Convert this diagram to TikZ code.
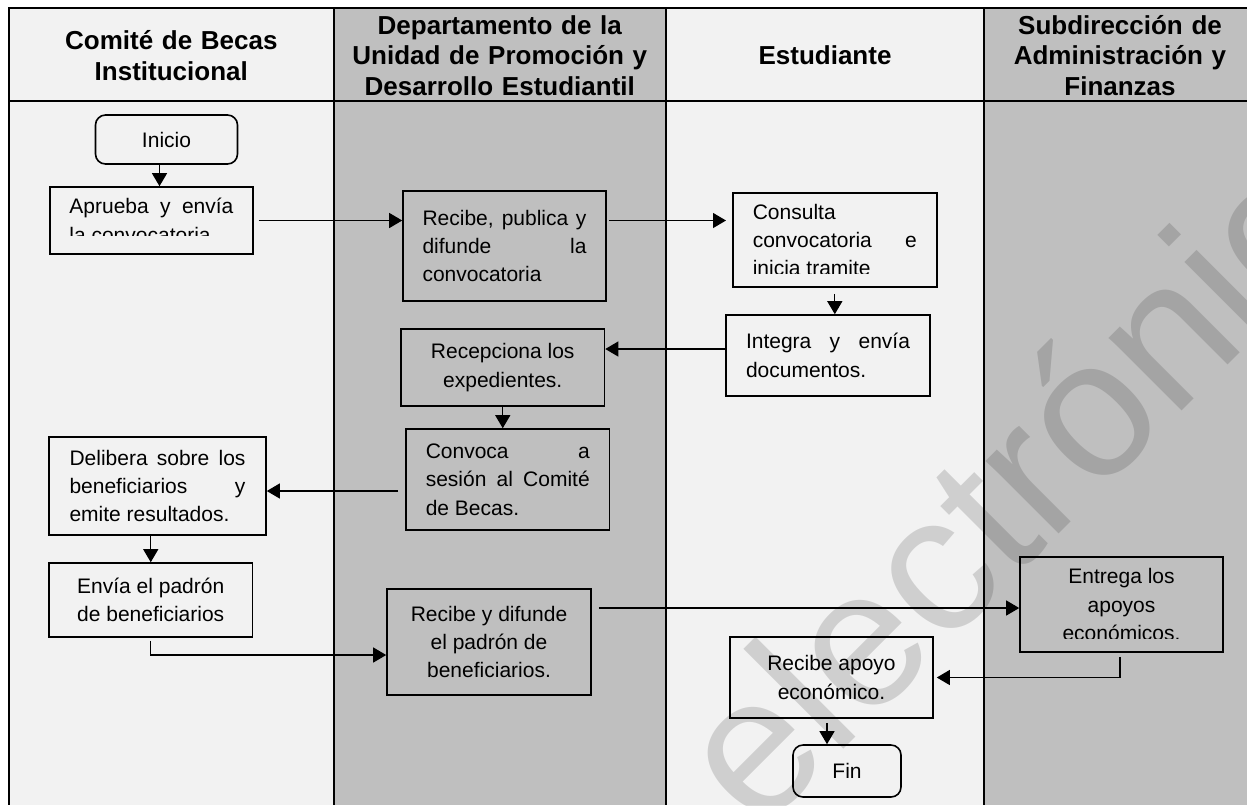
\documentclass[tikz,border=0pt]{standalone}
\usepackage{fontspec}
\setmainfont{Liberation Sans}
\usetikzlibrary{arrows.meta}
\definecolor{claro}{RGB}{242,242,242}
\definecolor{gris}{RGB}{191,191,191}

\tikzset{
	tam/.style 2 args={minimum width=#1*.5pt, minimum height=#2*.5pt},
	paso/.style={draw, line width=.8pt, inner sep=0pt, font=\fontsize{10.5}{14.2}\selectfont},
	just/.style={paso, align=justify, text width=82pt},
	centro/.style={paso, align=center},
	terminal/.style={centro, rounded corners=5pt},
	titulo/.style={align=center, text width=160pt, font=\bfseries\fontsize{13}{15.3}\selectfont},
	flecha/.style={line width=.6pt, -{Triangle[length=6.5pt,width=7.5pt]}},
	marca/.style={text=black, text opacity=.14, inner sep=0pt, font=\fontsize{97.5}{97.5}\selectfont}
}

\begin{document}
\begin{tikzpicture}[x=.5pt,y=-.5pt]
	\useasboundingbox (0,0) rectangle (1247,805);

	% carriles
	\fill[claro] (9,8) rectangle (333.7,805);
	\fill[gris] (333.7,8) rectangle (666,805);
	\fill[claro] (666,8) rectangle (984,805);
	\fill[gris] (984,8) rectangle (1247,805);
	\draw[line width=.7pt] (9,101) -- (1247,101);
	\draw[line width=1pt] (1247,8) -- (9,8) -- (9,805);
	\foreach \x in {333.7,666,984}
		\draw[line width=1pt] (\x,8) -- (\x,805);

	% encabezados
	\node[titulo] (comite) at (171.3,55.5) {Comité de Becas\\Institucional};
	\node[titulo] (depto) at (499.8,55.5) {Departamento de la\\Unidad de Promoción y\\Desarrollo Estudiantil};
	\node[titulo] (estud) at (825,55.5) {Estudiante};
	\node[titulo] (subdir) at (1120,55.5) {Subdirección de\\Administración y\\Finanzas};

	% comite
	\node[terminal, tam={142}{49}] (inicio) at (166.5,139.5) {Inicio};
	\node[just, tam={203}{67}] (aprueba) at (151.4,220.5) {Aprueba y envía\linebreak la convocatoria};
	\node[just, tam={217}{98}, text width=88pt] (delibera) at (157.5,486) {Delibera sobre los\linebreak beneficiarios y\linebreak emite resultados.};
	\node[centro, tam={203.5}{74}] (envia) at (150.75,600) {Envía el padrón\\de beneficiarios};

	% departamento
	\node[just, tam={203}{110}] (publica) at (504.5,246) {Recibe, publica y\linebreak difunde la\linebreak convocatoria};
	\node[centro, tam={203.5}{77}] (recepciona) at (502.75,367.5) {Recepciona los\\expedientes.};
	\node[just, tam={203.5}{101}] (convoca) at (507.75,479.5) {Convoca a\linebreak sesión al Comité\linebreak de Becas.};
	\node[centro, tam={204}{106}] (difunde) at (489,642) {Recibe y difunde\\el padrón de\\beneficiarios.};

	% estudiante
	\node[just, tam={204}{94}] (consulta) at (834.8,240) {Consulta\\convocatoria e\linebreak inicia tramite};
	\node[just, tam={204}{81}] (integra) at (828,355.5) {Integra y envía\linebreak documentos.};
	\node[centro, tam={203}{81}] (apoyo) at (831.5,677.5) {Recibe apoyo\\económico.};
	\node[terminal, tam={108}{52}] (fin) at (847,771) {Fin};

	% subdireccion
	\node[centro, tam={203}{95}] (entrega) at (1121.5,604.5) {Entrega los\\apoyos\\económicos.};

	% texto cortado
	\fill[claro] (51,235.6) rectangle (251.7,253.1);
	\fill[claro] (734,274.4) rectangle (935.6,286.1);
	\fill[gris] (1021.2,638.6) rectangle (1221.8,651.1);

	\draw[flecha] ([xshift=-3.5pt]inicio.south) -- ([xshift=-3.5pt]inicio.south |- aprueba.north);
	\draw[flecha, shorten <=2.5pt] (aprueba.east) -- (aprueba.east -| publica.west);
	\draw[flecha, shorten <=1.3pt, shorten >=3pt] (publica.east |- aprueba.east) -- (consulta.west |- aprueba.east);
	\draw[flecha, shorten <=3pt] (consulta.south) -- (consulta.south |- integra.north);
	\draw[flecha] ([yshift=3.25pt]integra.west) -- ([yshift=3.25pt]integra.west -| recepciona.east);
	\draw[flecha] (recepciona.south) -- (recepciona.south |- convoca.north);
	\draw[flecha, shorten <=3.5pt] ([yshift=-2.5pt]convoca.west |- delibera.east) -- ([yshift=-2.5pt]delibera.east);
	\draw[flecha] (delibera.south -| envia.north) -- (envia.north);
	\draw[flecha, shorten <=1.5pt] (envia.south) |- ([yshift=-6.5pt]difunde.west);
	\draw[flecha, shorten <=3.5pt] ([yshift=-1.75pt]difunde.east |- entrega.west) -- ([yshift=-1.75pt]entrega.west);
	\draw[flecha, shorten <=2pt, shorten >=1.5pt] ([xshift=-.75pt]entrega.south) |- (apoyo.east);
	\draw[flecha, shorten <=2pt] ([xshift=-2.25pt]apoyo.south) -- ([xshift=-2.25pt]apoyo.south |- fin.north);

	% marca de agua
	\begin{scope}
		\clip (0,0) rectangle (1247,805);
		\node[marca, rotate=45, anchor=base west] (marca) at (758,835) {electrónic};
	\end{scope}
\end{tikzpicture}
\end{document}
